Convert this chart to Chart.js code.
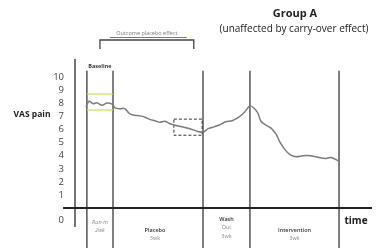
<!DOCTYPE html>
<html>
<head>
<meta charset="utf-8">
<script src="https://cdn.jsdelivr.net/npm/chart.js@4"></script>
<style>
  html, body { margin: 0; padding: 0; background: #fff; }
  canvas { display: block; }
</style>
</head>
<body>
<canvas id="vas" width="385" height="251"></canvas>
<script>
'use strict';

// time axis is schematic, arbitrary units 0..100
const painTime = [3.7, 4.7, 6.1, 7.4, 9.1, 10.8, 12.5, 13.5, 15.2, 16.8, 18.2, 19.9, 21.9, 23.6,
  25.3, 26.9, 28.6, 30.3, 32.0, 33.7, 36.0, 38.7, 41.1, 43.1, 44.8, 46.8, 48.8, 50.8, 52.9,
  54.9, 56.9, 58.9, 60.3, 61.6, 62.6, 64.3, 66.0, 67.7, 69.0, 70.7, 72.4, 74.4, 76.8, 79.1,
  81.8, 84.2, 86.2, 88.9];
const painValues = [7.73, 8.17, 7.98, 8.05, 7.86, 8.04, 7.94, 7.66, 7.6, 7.61, 7.25, 7.1, 7.05, 6.95,
  6.76, 6.68, 6.56, 6.64, 6.45, 6.34, 6.21, 6.07, 5.88, 5.8, 6.07, 6.21, 6.37, 6.6, 6.68,
  6.91, 7.29, 7.81, 7.63, 7.25, 6.64, 6.34, 6.11, 5.65, 5.04, 4.47, 4.08, 3.93, 4.0, 4.0,
  3.89, 3.79, 3.87, 3.59];

const yTickValues = [1, 2, 3, 4, 5, 6, 7, 8, 9, 10];

const phaseEdges = [4.0, 12.8, 43.1, 58.9, 88.9];
const phaseNames = [['Run-in', '2wk'], ['Placebo', '3wk'], ['Wash', 'Out', '3wk'], ['Intervention', '3wk']];

const baselineRange = [7.5, 8.72];
const zoomBoxX = [33.3, 42.8];
const zoomBoxY = [5.57, 6.8];
const placeboSpan = [8.4, 40.0];

const painData = painTime.map((t, i) => ({ x: t, y: painValues[i] }));

const schematic = {
  id: 'schematic',
  beforeDatasetsDraw(chart) {
    const ctx = chart.ctx;
    const xs = chart.scales.x;
    const ys = chart.scales.y;
    const area = chart.chartArea;
    ctx.save();

    // phase dividers
    ctx.strokeStyle = '#555';
    ctx.lineWidth = 1.5;
    for (let e of phaseEdges) {
      const px = xs.getPixelForValue(e);
      ctx.beginPath();
      ctx.moveTo(px, ys.getPixelForValue(10.5));
      ctx.lineTo(px, chart.height - 3);
      ctx.stroke();
    }

    // y axis line
    const x0 = xs.getPixelForValue(0);
    ctx.strokeStyle = '#444';
    ctx.beginPath();
    ctx.moveTo(x0, area.top);
    ctx.lineTo(x0, area.bottom);
    ctx.stroke();

    // time axis
    const y0 = ys.getPixelForValue(0);
    ctx.strokeStyle = '#222';
    ctx.lineWidth = 2;
    ctx.beginPath();
    ctx.moveTo(xs.getPixelForValue(-4), y0);
    ctx.lineTo(area.right, y0);
    ctx.stroke();

    // baseline band
    ctx.strokeStyle = '#cfd85a';
    ctx.lineWidth = 1.2;
    for (let v of baselineRange) {
      ctx.beginPath();
      ctx.moveTo(xs.getPixelForValue(phaseEdges[0]), ys.getPixelForValue(v));
      ctx.lineTo(xs.getPixelForValue(phaseEdges[1]), ys.getPixelForValue(v));
      ctx.stroke();
    }

    // dashed box
    ctx.strokeStyle = '#333';
    ctx.lineWidth = 1;
    ctx.setLineDash([3, 2]);
    const bx = xs.getPixelForValue(zoomBoxX[0]);
    const by = ys.getPixelForValue(zoomBoxY[1]);
    ctx.strokeRect(bx, by, xs.getPixelForValue(zoomBoxX[1]) - bx, ys.getPixelForValue(zoomBoxY[0]) - by);
    ctx.setLineDash([]);

    // bracket
    const l = xs.getPixelForValue(placeboSpan[0]);
    const r = xs.getPixelForValue(placeboSpan[1]);
    ctx.strokeStyle = '#7070c8';
    ctx.lineWidth = 1;
    ctx.beginPath();
    ctx.moveTo(l + 10, 37.5);
    ctx.lineTo(r - 7, 37.5);
    ctx.stroke();
    ctx.strokeStyle = '#444';
    ctx.lineWidth = 1.3;
    ctx.beginPath();
    ctx.moveTo(l, 49);
    ctx.lineTo(l, 40);
    ctx.lineTo(r, 40);
    ctx.lineTo(r, 49);
    ctx.stroke();

    // texts
    ctx.textAlign = 'center';
    ctx.textBaseline = 'middle';
    ctx.fillStyle = '#222';
    ctx.font = 'bold 11px "Open Sans"';
    ctx.fillText('Group A', 295, 14);
    ctx.font = '10px "Open Sans"';
    ctx.fillText('(unaffected by carry-over effect)', 294, 29);

    ctx.fillStyle = '#777';
    ctx.font = '5.5px "Open Sans"';
    ctx.fillText('Outcome placebo effect', (l + r) / 2, 33);

    ctx.fillStyle = '#333';
    ctx.font = 'bold 5.5px "Open Sans"';
    ctx.fillText('Baseline', (xs.getPixelForValue(phaseEdges[0]) + xs.getPixelForValue(phaseEdges[1])) / 2, 66);

    ctx.font = 'bold 8.5px "Open Sans"';
    ctx.fillStyle = '#222';
    ctx.fillText('VAS pain', 32, 115);

    ctx.font = 'bold 10px "Open Sans"';
    ctx.fillText('time', 356, 221);

    // phase names under the axis
    for (let i = 0; i < phaseNames.length; i++) {
      const mid = (xs.getPixelForValue(phaseEdges[i]) + xs.getPixelForValue(phaseEdges[i + 1])) / 2;
      const lines = phaseNames[i];
      const startY = lines.length === 3 ? 219 : (i === 0 ? 222 : 230);
      for (let k = 0; k < lines.length; k++) {
        const head = k === 0 && i > 0;
        ctx.fillStyle = head ? '#333' : '#888';
        ctx.font = (i === 0 ? 'italic ' : '') + (head ? '600 ' : '') + '5.5px "Open Sans"';
        ctx.fillText(lines[k], mid + (i === 1 ? -3 : 0), startY + k * 8.5);
      }
    }
    ctx.restore();
  }
};

new Chart(document.getElementById('vas'), {
  type: 'scatter',
  data: {
    datasets: [{
      data: painData,
      showLine: true,
      borderColor: '#7c7c7c',
      borderWidth: 1.5,
      pointRadius: 0,
      tension: 0.3,
      fill: false
    }]
  },
  options: {
    responsive: false,
    animation: false,
    layout: { padding: { top: 59, right: 13, bottom: 24, left: 0 } },
    plugins: { legend: { display: false }, tooltip: { enabled: false } },
    scales: {
      x: {
        type: 'linear',
        min: 0,
        max: 100,
        display: false
      },
      y: {
        type: 'linear',
        min: -1.45,
        max: 11.4,
        grid: { display: false },
        border: { display: false },
        afterFit(scale) { scale.width = 75; },
        afterBuildTicks(scale) {
          // the "0" is written below the time axis
          scale.ticks = [{ value: -0.9 }].concat(yTickValues.map(v => ({ value: v })));
        },
        ticks: {
          padding: 3,
          color: '#444',
          font: { family: 'Open Sans', size: 9.5 },
          callback: v => (v < 0 ? '0' : String(v))
        }
      }
    }
  },
  plugins: [schematic]
});
</script>
</body>
</html>
